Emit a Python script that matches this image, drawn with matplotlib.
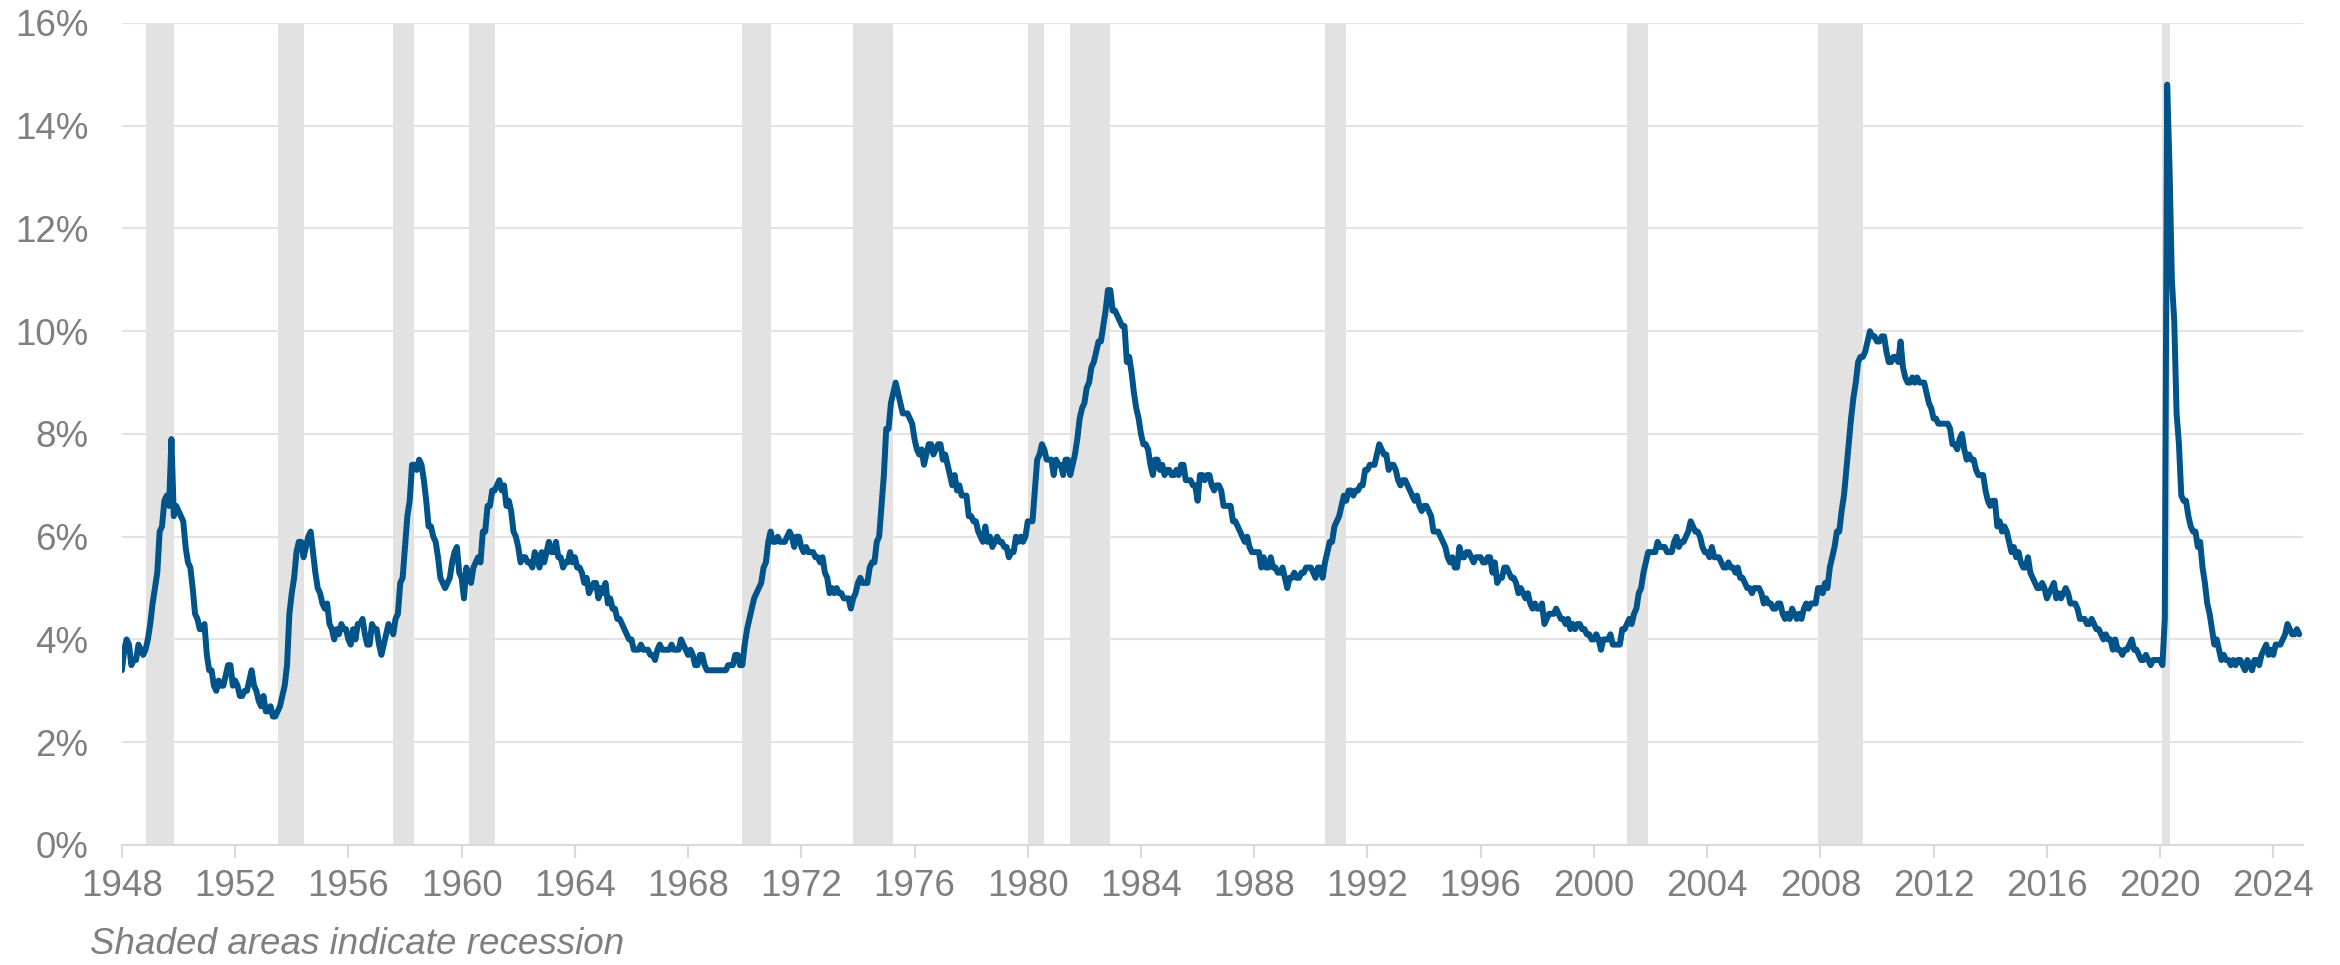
import numpy as np
import matplotlib.pyplot as plt

# monthly unemployment rate (%), one row per year, Jan..Dec
years = list(range(1948, 2025))
rate = [
    [3.4, 3.8, 4.0, 3.9, 3.5, 3.6, 3.6, 3.9, 3.8, 3.7, 3.8, 4.0],
    [4.3, 4.7, 5.0, 5.3, 6.1, 6.2, 6.7, 6.8, 6.6, 7.9, 6.4, 6.6],
    [6.5, 6.4, 6.3, 5.8, 5.5, 5.4, 5.0, 4.5, 4.4, 4.2, 4.2, 4.3],
    [3.7, 3.4, 3.4, 3.1, 3.0, 3.2, 3.1, 3.1, 3.3, 3.5, 3.5, 3.1],
    [3.2, 3.1, 2.9, 2.9, 3.0, 3.0, 3.2, 3.4, 3.1, 3.0, 2.8, 2.7],
    [2.9, 2.6, 2.6, 2.7, 2.5, 2.5, 2.6, 2.7, 2.9, 3.1, 3.5, 4.5],
    [4.9, 5.2, 5.7, 5.9, 5.9, 5.6, 5.8, 6.0, 6.1, 5.7, 5.3, 5.0],
    [4.9, 4.7, 4.6, 4.7, 4.3, 4.2, 4.0, 4.2, 4.1, 4.3, 4.2, 4.2],
    [4.0, 3.9, 4.2, 4.0, 4.3, 4.3, 4.4, 4.1, 3.9, 3.9, 4.3, 4.2],
    [4.2, 3.9, 3.7, 3.9, 4.1, 4.3, 4.2, 4.1, 4.4, 4.5, 5.1, 5.2],
    [5.8, 6.4, 6.7, 7.4, 7.4, 7.3, 7.5, 7.4, 7.1, 6.7, 6.2, 6.2],
    [6.0, 5.9, 5.6, 5.2, 5.1, 5.0, 5.1, 5.2, 5.5, 5.7, 5.8, 5.3],
    [5.2, 4.8, 5.4, 5.2, 5.1, 5.4, 5.5, 5.6, 5.5, 6.1, 6.1, 6.6],
    [6.6, 6.9, 6.9, 7.0, 7.1, 6.9, 7.0, 6.6, 6.7, 6.5, 6.1, 6.0],
    [5.8, 5.5, 5.6, 5.6, 5.5, 5.5, 5.4, 5.7, 5.6, 5.4, 5.7, 5.5],
    [5.7, 5.9, 5.7, 5.7, 5.9, 5.6, 5.6, 5.4, 5.5, 5.5, 5.7, 5.5],
    [5.6, 5.4, 5.4, 5.3, 5.1, 5.2, 4.9, 5.0, 5.1, 5.1, 4.8, 5.0],
    [4.9, 5.1, 4.7, 4.8, 4.6, 4.6, 4.4, 4.4, 4.3, 4.2, 4.1, 4.0],
    [4.0, 3.8, 3.8, 3.8, 3.9, 3.8, 3.8, 3.8, 3.7, 3.7, 3.6, 3.8],
    [3.9, 3.8, 3.8, 3.8, 3.8, 3.9, 3.8, 3.8, 3.8, 4.0, 3.9, 3.8],
    [3.7, 3.8, 3.7, 3.5, 3.5, 3.7, 3.7, 3.5, 3.4, 3.4, 3.4, 3.4],
    [3.4, 3.4, 3.4, 3.4, 3.4, 3.5, 3.5, 3.5, 3.7, 3.7, 3.5, 3.5],
    [3.9, 4.2, 4.4, 4.6, 4.8, 4.9, 5.0, 5.1, 5.4, 5.5, 5.9, 6.1],
    [5.9, 5.9, 6.0, 5.9, 5.9, 5.9, 6.0, 6.1, 6.0, 5.8, 6.0, 6.0],
    [5.8, 5.7, 5.8, 5.7, 5.7, 5.7, 5.6, 5.6, 5.5, 5.6, 5.3, 5.2],
    [4.9, 5.0, 4.9, 5.0, 4.9, 4.9, 4.8, 4.8, 4.8, 4.6, 4.8, 4.9],
    [5.1, 5.2, 5.1, 5.1, 5.1, 5.4, 5.5, 5.5, 5.9, 6.0, 6.6, 7.2],
    [8.1, 8.1, 8.6, 8.8, 9.0, 8.8, 8.6, 8.4, 8.4, 8.4, 8.3, 8.2],
    [7.9, 7.7, 7.6, 7.7, 7.4, 7.6, 7.8, 7.8, 7.6, 7.7, 7.8, 7.8],
    [7.5, 7.6, 7.4, 7.2, 7.0, 7.2, 6.9, 7.0, 6.8, 6.8, 6.8, 6.4],
    [6.4, 6.3, 6.3, 6.1, 6.0, 5.9, 6.2, 5.9, 6.0, 5.8, 5.9, 6.0],
    [5.9, 5.9, 5.8, 5.8, 5.6, 5.7, 5.7, 6.0, 5.9, 6.0, 5.9, 6.0],
    [6.3, 6.3, 6.3, 6.9, 7.5, 7.6, 7.8, 7.7, 7.5, 7.5, 7.5, 7.2],
    [7.5, 7.4, 7.4, 7.2, 7.5, 7.5, 7.2, 7.4, 7.6, 7.9, 8.3, 8.5],
    [8.6, 8.9, 9.0, 9.3, 9.4, 9.6, 9.8, 9.8, 10.1, 10.4, 10.8, 10.8],
    [10.4, 10.4, 10.3, 10.2, 10.1, 10.1, 9.4, 9.5, 9.2, 8.8, 8.5, 8.3],
    [8.0, 7.8, 7.8, 7.7, 7.4, 7.2, 7.5, 7.5, 7.3, 7.4, 7.2, 7.3],
    [7.3, 7.2, 7.2, 7.3, 7.2, 7.4, 7.4, 7.1, 7.1, 7.1, 7.0, 7.0],
    [6.7, 7.2, 7.2, 7.1, 7.2, 7.2, 7.0, 6.9, 7.0, 7.0, 6.9, 6.6],
    [6.6, 6.6, 6.6, 6.3, 6.3, 6.2, 6.1, 6.0, 5.9, 6.0, 5.8, 5.7],
    [5.7, 5.7, 5.7, 5.4, 5.6, 5.4, 5.4, 5.6, 5.4, 5.4, 5.3, 5.3],
    [5.4, 5.2, 5.0, 5.2, 5.2, 5.3, 5.2, 5.2, 5.3, 5.3, 5.4, 5.4],
    [5.4, 5.3, 5.2, 5.4, 5.4, 5.2, 5.5, 5.7, 5.9, 5.9, 6.2, 6.3],
    [6.4, 6.6, 6.8, 6.7, 6.9, 6.9, 6.8, 6.9, 6.9, 7.0, 7.0, 7.3],
    [7.3, 7.4, 7.4, 7.4, 7.6, 7.8, 7.7, 7.6, 7.6, 7.3, 7.4, 7.4],
    [7.3, 7.1, 7.0, 7.1, 7.1, 7.0, 6.9, 6.8, 6.7, 6.8, 6.6, 6.5],
    [6.6, 6.6, 6.5, 6.4, 6.1, 6.1, 6.1, 6.0, 5.9, 5.8, 5.6, 5.5],
    [5.6, 5.4, 5.4, 5.8, 5.6, 5.6, 5.7, 5.7, 5.6, 5.5, 5.6, 5.6],
    [5.6, 5.5, 5.5, 5.6, 5.6, 5.3, 5.5, 5.1, 5.2, 5.2, 5.4, 5.4],
    [5.3, 5.2, 5.2, 5.1, 4.9, 5.0, 4.9, 4.8, 4.9, 4.7, 4.6, 4.7],
    [4.6, 4.6, 4.7, 4.3, 4.4, 4.5, 4.5, 4.5, 4.6, 4.5, 4.4, 4.4],
    [4.3, 4.4, 4.2, 4.3, 4.2, 4.3, 4.3, 4.2, 4.2, 4.1, 4.1, 4.0],
    [4.0, 4.1, 4.0, 3.8, 4.0, 4.0, 4.0, 4.1, 3.9, 3.9, 3.9, 3.9],
    [4.2, 4.2, 4.3, 4.4, 4.3, 4.5, 4.6, 4.9, 5.0, 5.3, 5.5, 5.7],
    [5.7, 5.7, 5.7, 5.9, 5.8, 5.8, 5.8, 5.7, 5.7, 5.7, 5.9, 6.0],
    [5.8, 5.9, 5.9, 6.0, 6.1, 6.3, 6.2, 6.1, 6.1, 6.0, 5.8, 5.7],
    [5.7, 5.6, 5.8, 5.6, 5.6, 5.6, 5.5, 5.4, 5.4, 5.5, 5.4, 5.4],
    [5.3, 5.4, 5.2, 5.2, 5.1, 5.0, 5.0, 4.9, 5.0, 5.0, 5.0, 4.9],
    [4.7, 4.8, 4.7, 4.7, 4.6, 4.6, 4.7, 4.7, 4.5, 4.4, 4.5, 4.4],
    [4.6, 4.5, 4.4, 4.5, 4.4, 4.6, 4.7, 4.6, 4.7, 4.7, 4.7, 5.0],
    [5.0, 4.9, 5.1, 5.0, 5.4, 5.6, 5.8, 6.1, 6.1, 6.5, 6.8, 7.3],
    [7.8, 8.3, 8.7, 9.0, 9.4, 9.5, 9.5, 9.6, 9.8, 10.0, 9.9, 9.9],
    [9.8, 9.8, 9.9, 9.9, 9.6, 9.4, 9.4, 9.5, 9.5, 9.4, 9.8, 9.3],
    [9.1, 9.0, 9.0, 9.1, 9.0, 9.1, 9.0, 9.0, 9.0, 8.8, 8.6, 8.5],
    [8.3, 8.3, 8.2, 8.2, 8.2, 8.2, 8.2, 8.1, 7.8, 7.8, 7.7, 7.9],
    [8.0, 7.7, 7.5, 7.6, 7.5, 7.5, 7.3, 7.2, 7.2, 7.2, 6.9, 6.7],
    [6.6, 6.7, 6.7, 6.2, 6.3, 6.1, 6.2, 6.1, 5.9, 5.7, 5.8, 5.6],
    [5.7, 5.5, 5.4, 5.4, 5.6, 5.3, 5.2, 5.1, 5.0, 5.0, 5.1, 5.0],
    [4.8, 4.9, 5.0, 5.1, 4.8, 4.9, 4.8, 4.9, 5.0, 4.9, 4.7, 4.7],
    [4.7, 4.6, 4.4, 4.4, 4.4, 4.3, 4.3, 4.4, 4.3, 4.2, 4.2, 4.1],
    [4.0, 4.1, 4.0, 4.0, 3.8, 4.0, 3.8, 3.8, 3.7, 3.8, 3.8, 3.9],
    [4.0, 3.8, 3.8, 3.7, 3.6, 3.6, 3.7, 3.6, 3.5, 3.6, 3.6, 3.6],
    [3.6, 3.5, 4.4, 14.8, 13.2, 11.0, 10.2, 8.4, 7.8, 6.8, 6.7, 6.7],
    [6.4, 6.2, 6.1, 6.1, 5.8, 5.9, 5.4, 5.1, 4.7, 4.5, 4.2, 3.9],
    [4.0, 3.8, 3.6, 3.7, 3.6, 3.6, 3.5, 3.6, 3.5, 3.6, 3.6, 3.5],
    [3.4, 3.6, 3.5, 3.4, 3.6, 3.6, 3.5, 3.7, 3.8, 3.9, 3.7, 3.8],
    [3.7, 3.9, 3.9, 3.9, 4.0, 4.1, 4.3, 4.2, 4.1, 4.1, 4.2, 4.1],
]

# recessions (start year, start month, end year, end month)
recessions = [
    (1948, 11, 1949, 10), (1953, 7, 1954, 5), (1957, 8, 1958, 4),
    (1960, 4, 1961, 2), (1969, 12, 1970, 11), (1973, 11, 1975, 3),
    (1980, 1, 1980, 7), (1981, 7, 1982, 11), (1990, 7, 1991, 3),
    (2001, 3, 2001, 11), (2007, 12, 2009, 6), (2020, 2, 2020, 4),
]

x = np.array([y + m / 12 for y in years for m in range(12)])
vals = np.array(rate).ravel()

plt.rcParams['font.family'] = ['Liberation Sans', 'DejaVu Sans']
grey = '#7f7f7f'

fig = plt.figure(figsize=(23.4, 9.65), dpi=100)
ax = fig.add_axes([0.0521, 0.1244, 0.9321, 0.8518])

for sy, sm, ey, em in recessions:
    ax.axvspan(sy + (sm - 1) / 12, ey + em / 12, color='#e2e2e2', lw=0, zorder=0)

ax.plot(x, vals, color='#00548a', lw=4.3, solid_joinstyle='round',
        solid_capstyle='round', zorder=3)

ax.set_xlim(1948, 2025.05)
ax.set_ylim(0, 16)
ax.set_yticks(np.arange(0, 17, 2))
ax.set_yticklabels([f"{v}%" for v in range(0, 17, 2)])
ax.set_xticks(np.arange(1948, 2025, 4))

ax.grid(axis='y', color='#e3e3e3', lw=1.5, zorder=1)
ax.set_axisbelow(True)
for s in ['top', 'right', 'left']:
    ax.spines[s].set_visible(False)
ax.spines['bottom'].set_color('#d9d9d9')
ax.spines['bottom'].set_linewidth(1.5)
ax.spines['bottom'].set_zorder(2)

ax.tick_params(axis='y', length=0, pad=24, labelsize=26.5, labelcolor=grey)
ax.tick_params(axis='x', length=9, width=1.5, color='#d9d9d9', pad=8,
               labelsize=26.5, labelcolor=grey)

fig.text(0.0385, 0.021, "Shaded areas indicate recession", fontsize=26.5,
         style='italic', color=grey, va='center', ha='left')

fig.savefig('out.png', dpi=100)
